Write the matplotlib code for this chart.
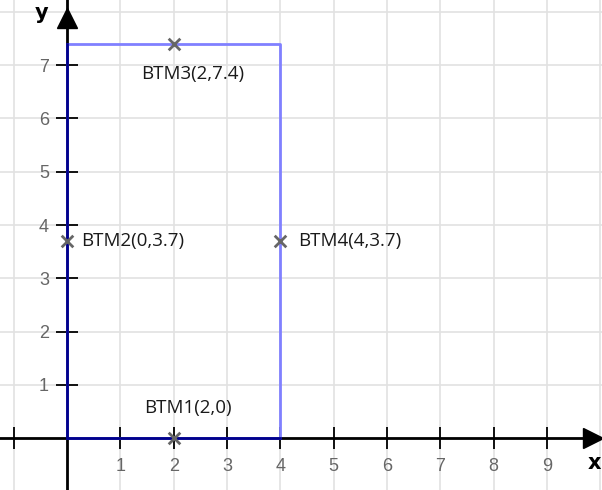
import numpy as np
import matplotlib.pyplot as plt

# Points on the rectangle
names = ['BTM1', 'BTM2', 'BTM3', 'BTM4']
px = [2, 0, 2, 4]
py = [0, 3.7, 7.4, 3.7]

# Rectangle corners
rect_x = [0, 4]
rect_y = [0, 7.4]

xticks = [-1, 1, 2, 3, 4, 5, 6, 7, 8, 9]
yticks = [1, 2, 3, 4, 5, 6, 7]

fig = plt.figure(figsize=(6.02, 4.90), dpi=100)
ax = fig.add_axes([0, 0, 1, 1])
ax.set_xlim(-1.256, 10.03)
ax.set_ylim(-0.97, 8.22)

# grid
for gx in range(-1, 11):
    ax.axvline(gx, color='#e2e2e2', lw=1.2, zorder=0)
for gy in range(-1, 9):
    ax.axhline(gy, color='#e2e2e2', lw=1.2, zorder=0)

# axes through origin
for s in ['top', 'right']:
    ax.spines[s].set_visible(False)
ax.spines['left'].set_position(('data', 0))
ax.spines['bottom'].set_position(('data', 0))
ax.spines['left'].set_linewidth(2)
ax.spines['bottom'].set_linewidth(2)
ax.spines['left'].set_zorder(1)
ax.spines['bottom'].set_zorder(1)
# arrow heads
ax.plot(9.87, 0, '>k', ms=15, clip_on=False, zorder=6)
ax.plot(0, 7.88, '^k', ms=15, clip_on=False, zorder=6)

ax.set_xticks(xticks)
ax.set_xticklabels(['' if t == -1 else str(t) for t in xticks])
ax.set_yticks(yticks)
ax.tick_params(direction='inout', length=16, width=1.3, color='black',
               labelsize=13, labelcolor='#666666')
ax.tick_params(axis='x', pad=6)
ax.tick_params(axis='y', pad=5)
for lab in ax.get_xticklabels() + ax.get_yticklabels():
    lab.set_fontfamily('Liberation Sans')

# rectangle: top/right light, left/bottom dark
ax.plot([rect_x[0], rect_x[0], rect_x[1], rect_x[1], rect_x[0]],
        [rect_y[0], rect_y[1], rect_y[1], rect_y[0], rect_y[0]],
        color='#8080ff', lw=2, zorder=2)
ax.plot([rect_x[0], rect_x[0]], [rect_y[0], rect_y[1]], color='#00008b', lw=2, zorder=3)
ax.plot([rect_x[0], rect_x[1]], [rect_y[0], rect_y[0]], color='#00008b', lw=2, zorder=3)

# points
ax.scatter(px, py, marker='x', s=70, color='#666666', linewidths=2, zorder=4)

offsets = {'BTM1': (10, 22, 'center', 'center'),
           'BTM2': (10, 0, 'left', 'center'),
           'BTM3': (14, -22, 'center', 'center'),
           'BTM4': (13, 0, 'left', 'center')}
for n, x, y in zip(names, px, py):
    dx, dy, ha, va = offsets[n]
    lbl = f'{n}({x:g},{y:g})'
    ax.annotate(lbl, (x, y), xytext=(dx, dy), textcoords='offset points',
                ha=ha, va=va, fontsize=13.5, color='#1a1a1a',
                fontfamily='Open Sans', zorder=5)

ax.text(-0.48, 7.98, 'y', fontsize=15, fontweight='bold', ha='center', va='center')
ax.text(9.88, -0.47, 'x', fontsize=15, fontweight='bold', ha='center', va='center')

fig.savefig('out.png', dpi=100)
